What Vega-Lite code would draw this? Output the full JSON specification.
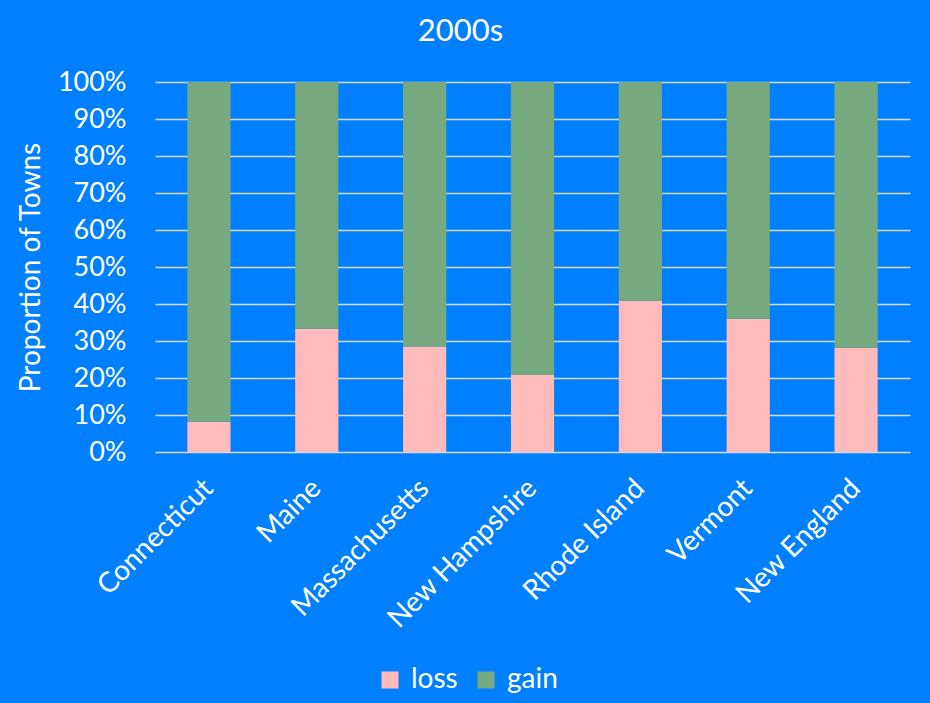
{
  "$schema": "https://vega.github.io/schema/vega-lite/v6.json",
  "autosize": {"type": "none"},
  "padding": {"left": 155, "top": 82, "right": 20, "bottom": 251},
  "width": 755,
  "height": 370,
  "background": "#0080FF",
  "title": {"text": "2000s", "font": "Lato", "fontSize": 31, "fontWeight": "normal", "color": "white", "anchor": "middle", "frame": "group", "dx": -72, "dy": 5, "offset": 25},
  "config": {
    "view": {"stroke": null},
    "font": "Lato"
  },
  "data": {
    "values": [
      {"region": "Connecticut", "type": "loss", "value": 8.2, "ord": 1},
      {"region": "Connecticut", "type": "gain", "value": 91.8, "ord": 2},
      {"region": "Maine", "type": "loss", "value": 33.3, "ord": 1},
      {"region": "Maine", "type": "gain", "value": 66.7, "ord": 2},
      {"region": "Massachusetts", "type": "loss", "value": 28.5, "ord": 1},
      {"region": "Massachusetts", "type": "gain", "value": 71.5, "ord": 2},
      {"region": "New Hampshire", "type": "loss", "value": 20.8, "ord": 1},
      {"region": "New Hampshire", "type": "gain", "value": 79.2, "ord": 2},
      {"region": "Rhode Island", "type": "loss", "value": 40.9, "ord": 1},
      {"region": "Rhode Island", "type": "gain", "value": 59.1, "ord": 2},
      {"region": "Vermont", "type": "loss", "value": 36.0, "ord": 1},
      {"region": "Vermont", "type": "gain", "value": 64.0, "ord": 2},
      {"region": "New England", "type": "loss", "value": 28.2, "ord": 1},
      {"region": "New England", "type": "gain", "value": 71.8, "ord": 2}
    ]
  },
  "mark": {"type": "bar"},
  "encoding": {
    "x": {
      "field": "region", "type": "nominal", "sort": null,
      "scale": {"paddingInner": 0.6, "paddingOuter": 0.3},
      "axis": {"title": null, "labelAngle": -45, "labelFontSize": 28, "labelColor": "white", "labelFont": "Lato", "domain": false, "ticks": false, "labelPadding": 32, "labelAlign": "right", "labelBaseline": "middle", "labelLimit": 0}
    },
    "y": {
      "field": "value", "type": "quantitative", "stack": "zero",
      "scale": {"domain": [0, 100], "nice": false},
      "axis": {"title": "Proportion of Towns", "titleFontSize": 28, "titleFont": "Lato", "titleFontWeight": "normal", "titleColor": "white", "titlePadding": 12,
        "values": [0,10,20,30,40,50,60,70,80,90,100],
        "labelExpr": "datum.value + '%'",
        "labelFontSize": 27, "labelColor": "white", "labelFont": "Lato", "labelPadding": 29,
        "domain": false, "ticks": false, "grid": true, "gridColor": "#D9D9D9", "gridWidth": 1.5}
    },
    "color": {
      "field": "type", "type": "nominal",
      "scale": {"domain": ["loss", "gain"], "range": ["#FFBBBB", "#77A980"]},
      "legend": {"title": null, "orient": "none", "legendX": 221, "legendY": 584, "direction": "horizontal",
        "symbolType": "square", "symbolSize": 289, "symbolStrokeWidth": 0, "symbolOpacity": 1,
        "labelFontSize": 28, "labelColor": "white", "labelFont": "Lato", "columnPadding": 14, "labelOffset": 7}
    },
    "order": {"field": "ord", "type": "quantitative"}
  }
}
